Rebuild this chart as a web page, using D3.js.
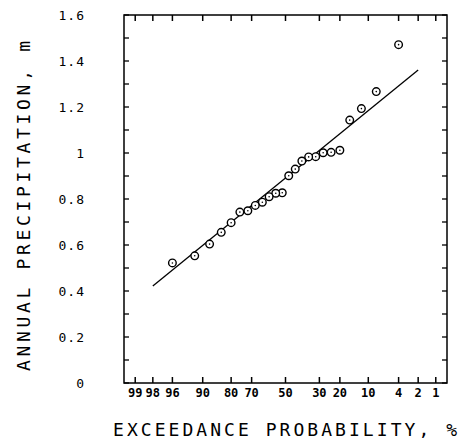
<!DOCTYPE html>
<html>
<head>
<meta charset="utf-8">
<script src="https://cdn.jsdelivr.net/npm/d3@7"></script>
<style>
  html, body { margin: 0; padding: 0; background: #fff; }
  svg { display: block; }
  text { font-family: "DejaVu Sans Mono", "Liberation Mono", monospace; fill: #000; }
</style>
</head>
<body>
<svg id="chart" width="459" height="444"></svg>
<script>
// ---- data ----
const exceedancePct = [4, 8, 12, 16, 20, 24, 28, 32, 36, 40, 44, 48, 52, 56, 60, 64, 68, 72, 76, 80, 84, 88, 92, 96];
const precipitation = [1.471, 1.267, 1.193, 1.143, 1.012, 1.003, 1.001, 0.984, 0.983, 0.965, 0.930, 0.901,
                       0.827, 0.825, 0.810, 0.786, 0.772, 0.749, 0.743, 0.697, 0.655, 0.604, 0.553, 0.522];
const fitLinePct = [98, 2];
const fitLineVals = [0.422, 1.361];
const xTickPct = [99, 98, 96, 90, 80, 70, 50, 30, 20, 10, 4, 2, 1];
const yTickVals = [0, 0.2, 0.4, 0.6, 0.8, 1, 1.2, 1.4, 1.6];
const yMinorVals = [0.1, 0.3, 0.5, 0.7, 0.9, 1.1, 1.3, 1.5];
const xTitle = "EXCEEDANCE PROBABILITY, %";
const yTitle = "ANNUAL PRECIPITATION, m";

// inverse standard normal CDF (Acklam)
function qnorm(p) {
  const a = [-3.969683028665376e+01, 2.209460984245205e+02, -2.759285104469687e+02, 1.383577518672690e+02, -3.066479806614716e+01, 2.506628277459239e+00];
  const b = [-5.447609879822406e+01, 1.615858368580409e+02, -1.556989798598866e+02, 6.680131188771972e+01, -1.328068155288572e+01];
  const c = [-7.784894002430293e-03, -3.223964580411365e-01, -2.400758277161838e+00, -2.549732539343734e+00, 4.374664141464968e+00, 2.938163982698783e+00];
  const d = [7.784695709041462e-03, 3.224671290700398e-01, 2.445134137142996e+00, 3.754408661907416e+00];
  const plow = 0.02425, phigh = 1 - plow;
  let q, r;
  if (p < plow) {
    q = Math.sqrt(-2 * Math.log(p));
    return (((((c[0]*q+c[1])*q+c[2])*q+c[3])*q+c[4])*q+c[5]) / ((((d[0]*q+d[1])*q+d[2])*q+d[3])*q+1);
  } else if (p <= phigh) {
    q = p - 0.5; r = q*q;
    return (((((a[0]*r+a[1])*r+a[2])*r+a[3])*r+a[4])*r+a[5])*q / (((((b[0]*r+b[1])*r+b[2])*r+b[3])*r+b[4])*r+1);
  } else {
    q = Math.sqrt(-2 * Math.log(1 - p));
    return -(((((c[0]*q+c[1])*q+c[2])*q+c[3])*q+c[4])*q+c[5]) / ((((d[0]*q+d[1])*q+d[2])*q+d[3])*q+1);
  }
}
const zOf = pct => qnorm(1 - pct / 100);

const L = 124, R = 447, T = 15, B = 383;
const x = d3.scaleLinear().domain([-2.5, 2.5]).range([L, R]);
const y = d3.scaleLinear().domain([0, 1.6]).range([B, T]);
const px = pct => x(zOf(pct));

const svg = d3.select("#chart");
const g = svg.append("g");

// frame
g.append("rect").attr("x", L).attr("y", T).attr("width", R - L).attr("height", B - T)
  .attr("fill", "none").attr("stroke", "#000").attr("stroke-width", 1.5);

const tickLen = 5;
// y ticks (inward, left and right)
const allY = yTickVals.concat(yMinorVals);
g.selectAll(".ytl").data(allY).join("line")
  .attr("x1", L).attr("x2", L + tickLen).attr("y1", d => y(d)).attr("y2", d => y(d))
  .attr("stroke", "#000").attr("stroke-width", 1.3);
g.selectAll(".ytr").data(allY).join("line")
  .attr("x1", R).attr("x2", R - tickLen).attr("y1", d => y(d)).attr("y2", d => y(d))
  .attr("stroke", "#000").attr("stroke-width", 1.3);

// x ticks (inward, top and bottom)
g.selectAll(".xtb").data(xTickPct).join("line")
  .attr("x1", d => px(d)).attr("x2", d => px(d)).attr("y1", B).attr("y2", B - 6)
  .attr("stroke", "#000").attr("stroke-width", 1.5);
g.selectAll(".xtt").data(xTickPct).join("line")
  .attr("x1", d => px(d)).attr("x2", d => px(d)).attr("y1", T).attr("y2", T + 6)
  .attr("stroke", "#000").attr("stroke-width", 1.5);

// y tick labels
g.selectAll(".yl").data(yTickVals).join("text")
  .attr("x", 85).attr("y", d => y(d) + 5)
  .attr("text-anchor", "end").attr("font-size", 13).attr("letter-spacing", 1)
  .text(d => String(d));

// x tick labels
g.selectAll(".xl").data(xTickPct).join("text")
  .attr("x", d => px(d)).attr("y", 397)
  .attr("text-anchor", "middle").attr("font-size", 12).attr("font-weight", "bold")
  .text(d => String(d));

// titles
g.append("text").attr("x", 285).attr("y", 436).attr("text-anchor", "middle")
  .attr("font-size", 18).attr("textLength", 344).attr("lengthAdjust", "spacing")
  .text(xTitle);
g.append("text").attr("transform", "translate(30,206) rotate(-90)").attr("text-anchor", "middle")
  .attr("font-size", 18).attr("textLength", 330).attr("lengthAdjust", "spacing")
  .text(yTitle);

// fitted line
const line = d3.line().x(d => px(d[0])).y(d => y(d[1]));
g.append("path").datum(d3.zip(fitLinePct, fitLineVals))
  .attr("d", line).attr("fill", "none").attr("stroke", "#000").attr("stroke-width", 1.3);

// points
const pts = d3.zip(exceedancePct, precipitation);
g.selectAll(".pt").data(pts).join("circle")
  .attr("cx", d => px(d[0])).attr("cy", d => y(d[1])).attr("r", 3.8)
  .attr("fill", "#fff").attr("stroke", "#000").attr("stroke-width", 1.4);
g.selectAll(".pd").data(pts).join("circle")
  .attr("cx", d => px(d[0])).attr("cy", d => y(d[1])).attr("r", 0.8)
  .attr("fill", "#000");
</script>
</body>
</html>
